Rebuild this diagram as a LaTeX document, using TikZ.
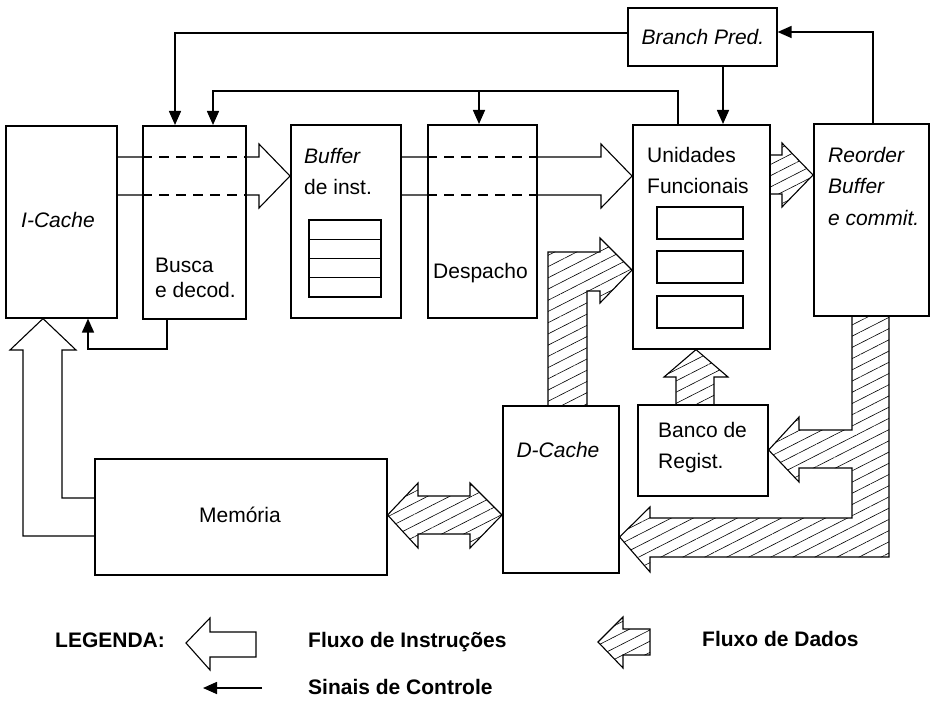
\documentclass[tikz,border=0pt]{standalone}
\usepackage{fontspec}
\setmainfont{Liberation Sans}
\usetikzlibrary{arrows.meta,patterns.meta}

\tikzset{
  bloco/.style={draw, line width=1.6pt, anchor=north west, inner sep=0pt},
  rotulo/.style={anchor=north west, inner sep=0pt, align=left},
  ctrl/.style={line width=1.6pt, -{Triangle[length=14pt,width=12pt]}},
  instr/.style={line width=1.1pt, line join=miter},
  dados/.style={line width=1.1pt, line join=miter, pattern={Lines[angle=27,distance=10pt,line width=0.6pt]}},
  legenda/.style={anchor=base west, inner sep=0pt, font=\fontsize{21}{25}\selectfont\bfseries},
}

\begin{document}
\begin{tikzpicture}[x=1pt,y=-1pt,every node/.style={font=\fontsize{21}{31.5}\selectfont}]
        \useasboundingbox (0,0) rectangle (931,703);
        % blocos
        \node[bloco, minimum width=111pt, minimum height=192pt] (icache) at (5,125) {};
        \node[bloco, minimum width=103pt, minimum height=193pt] (busca) at (142,125) {};
        \node[bloco, minimum width=110pt, minimum height=193pt] (buffer) at (290,124) {};
        \node[bloco, minimum width=109pt, minimum height=193pt] (desp) at (427,124) {};
        \node[bloco, minimum width=137pt, minimum height=224pt] (unid) at (632,124) {};
        \node[bloco, minimum width=115pt, minimum height=192pt] (reord) at (813,123) {};
        \node[bloco, minimum width=149pt, minimum height=58pt] (bpred) at (627,7) {};
        \node[bloco, minimum width=130pt, minimum height=91pt] (banco) at (637,404) {};
        \node[bloco, minimum width=116pt, minimum height=167pt] (dcache) at (502,405) {};
        \node[bloco, minimum width=292pt, minimum height=116pt] (mem) at (94,458) {};
        \foreach \k in {0,...,3}
            \draw[line width=1.1pt] (309,220+19.25*\k) rectangle ++(72,19.25);
        \foreach \y in {207,251,296}
            \draw[line width=1.1pt] (657,\y) rectangle ++(86,32);
        % textos
        \node[anchor=base, inner sep=0pt] (ticache) at (58,228) {\itshape I-Cache};
        \node[rotulo, font=\fontsize{21}{25}\selectfont] (tbusca) at (155,258) {Busca\\e decod.};
        \node[rotulo] (tbuffer) at (304,148) {{\itshape Buffer}\\de inst.};
        \node[anchor=base west, inner sep=0pt] (tdesp) at (433,278) {Despacho};
        \node[rotulo] (tunid) at (647,147) {Unidades\\Funcionais};
        \node[rotulo] (treord) at (828,147) {{\itshape Reorder}\\{\itshape Buffer}\\{\itshape e commit.}};
        \node[anchor=base, inner sep=0pt] (tbpred) at (703,45) {\itshape Branch Pred.};
        \node[rotulo] (tbanco) at (658,422) {Banco de\\Regist.};
        \node[anchor=base, inner sep=0pt] (tdcache) at (558,457) {\itshape D-Cache};
        \node[anchor=base, inner sep=0pt] (tmem) at (240,522) {Memória};
        % fluxo de instrucoes
        \draw[instr] (icache.east |- 0,157) -- (busca.west |- 0,157) (busca.east |- 0,157) -- (259,157) -- (259,144)
            -- (buffer.west |- 0,176) -- (259,208) -- (259,195) -- (busca.east |- 0,195) (busca.west |- 0,195) -- (icache.east |- 0,195);
        \draw[instr, dash pattern=on 10pt off 7pt] (busca.west |- 0,157) -- (busca.east |- 0,157) (busca.west |- 0,195) -- (busca.east |- 0,195);
        \draw[instr] (buffer.east |- 0,157) -- (desp.west |- 0,157) (desp.east |- 0,157) -- (601,157) -- (601,144)
            -- (unid.west |- 0,176) -- (601,208) -- (601,195) -- (desp.east |- 0,195) (desp.west |- 0,195) -- (buffer.east |- 0,195);
        \draw[instr, dash pattern=on 10pt off 7pt] (desp.west |- 0,157) -- (desp.east |- 0,157) (desp.west |- 0,195) -- (desp.east |- 0,195);
        \draw[instr] (mem.west |- 0,536) -- (23,536) -- (23,350) -- (10,350) -- (icache.south -| 43,0) -- (76,350) -- (62,350) -- (62,498) -- (mem.west |- 0,498);
        % fluxo de dados
        \draw[dados] (unid.east |- 0,155) -- (782,155) -- (782,143) -- (reord.west |- 0,175) -- (782,207) -- (782,194) -- (unid.east |- 0,194);
        \draw[dados] (dcache.north -| 548,0) -- (548,252) -- (600,252) -- (600,238) -- (unid.west |- 0,270) -- (600,303) -- (600,291) -- (587,291) -- (dcache.north -| 587,0);
        \draw[dados] (banco.north -| 676,0) -- (676,377) -- (664,377) -- (unid.south -| 696,0) -- (728,377) -- (714,377) -- (banco.north -| 714,0);
        \draw[dados] (reord.south -| 852,0) -- (852,430) -- (799,430) -- (799,417) -- (banco.east |- 0,450) -- (799,482) -- (799,468) -- (852,468)
            -- (852,518) -- (650,518) -- (650,507) -- (dcache.east |- 0,537) -- (650,572) -- (650,557) -- (889,557) -- (reord.south -| 889,0);
        \draw[dados] (mem.east |- 0,515) -- (418,483) -- (418,496) -- (470,496) -- (470,483) -- (dcache.west |- 0,515)
            -- (470,548) -- (470,534) -- (418,534) -- (418,548) -- cycle;
        % sinais de controle
        \draw[ctrl] (busca.south -| 167,0) -- (167,349) -- (88,349) -- (icache.south -| 88,0);
        \draw[ctrl] (bpred.west |- 0,33) -- (175,33) -- (busca.north -| 175,0);
        \draw[ctrl] (unid.north -| 678,0) -- (678,91) -- (213,91) -- (busca.north -| 213,0);
        \draw[ctrl] (479,91) -- (desp.north -| 479,0);
        \draw[ctrl] (bpred.south -| 723,0) -- (unid.north -| 723,0);
        \draw[ctrl] (reord.north -| 873,0) -- (873,32) -- (bpred.east |- 0,32);
        % legenda
        \node[legenda] (leg) at (55,647) {LEGENDA:};
        \draw[instr] (186,643) -- (210,618) -- (210,632) -- (256,632) -- (256,657) -- (210,657) -- (210,670) -- cycle;
        \node[legenda] (legi) at (308,647) {Fluxo de Instruções};
        \draw[dados] (598,642) -- (623,617) -- (623,629) -- (650,629) -- (650,655) -- (623,655) -- (623,668) -- cycle;
        \node[legenda] (legd) at (702,646) {Fluxo de Dados};
        \draw[ctrl] (262,688) -- (203,688);
        \node[legenda] (legc) at (308,694) {Sinais de Controle};
    \end{tikzpicture}
\end{document}
